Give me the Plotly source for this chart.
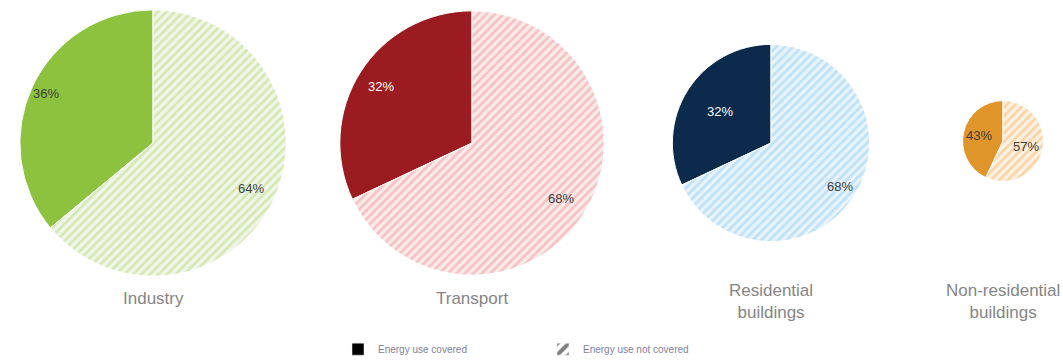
import math
import plotly.graph_objects as go

W, H = 1063, 364

sectors = ["Industry", "Transport", "Residential<br>buildings", "Non-residential<br>buildings"]
covered = [36, 32, 32, 43]
not_covered = [64, 68, 68, 57]
slice_labels = ["Energy use covered", "Energy use not covered"]

solid_colors = ["#8DC23F", "#9B1C20", "#0B2A4C", "#E0952A"]
hatch_colors = ["#D3E8B4", "#F3C2C2", "#BFE0F6", "#F8D5A8"]
hatch_bg = ["#F1F7E8", "#FBEAEA", "#E8F4FC", "#FDF1E2"]
covered_text = ["#404040", "#FFFFFF", "#FFFFFF", "#404040"]

# pixel geometry: centre x, centre y, radius
geom = [(153, 145, 135), (472, 145, 134), (771, 145, 100), (1003, 143, 41)]
title_y = [303, 303, 306, 306]
# radial position of the percentage labels (fraction of radius)
label_r = [(0.88, 0.80), (0.80, 0.79), (0.60, 0.82), (0.60, 0.57)]

fig = go.Figure()
for i, s in enumerate(sectors):
    cx, cy, r = geom[i]
    tot = covered[i] + not_covered[i]
    fig.add_trace(go.Pie(
        labels=slice_labels,
        values=[covered[i], not_covered[i]],
        sort=False,
        direction="clockwise",
        rotation=-360.0 * covered[i] / tot,
        textinfo="none",
        marker=dict(
            colors=[solid_colors[i], hatch_bg[i]],
            line=dict(color="white", width=1),
            pattern=dict(shape=["", "/"], fgcolor=hatch_colors[i], bgcolor=hatch_bg[i],
                         size=6, solidity=0.45, fillmode="replace"),
        ),
        domain=dict(x=[(cx - r) / W, (cx + r) / W], y=[1 - (cy + r) / H, 1 - (cy - r) / H]),
        showlegend=False,
        hoverinfo="label+percent",
    ))
    fig.add_annotation(text=s, x=cx / W, y=1 - title_y[i] / H, xref="paper", yref="paper",
                       showarrow=False, xanchor="center", yanchor="middle",
                       font=dict(family="Liberation Sans Narrow, Liberation Sans", size=17, color="#858585"))
    # percentage labels on each slice's bisector (covered slice runs anticlockwise from 12 o'clock)
    vals = [covered[i], not_covered[i]]
    cols = [covered_text[i], "#404040"]
    start = 0.0
    for k, v in enumerate(vals):
        mid = (start + v / 2) / tot * 2 * math.pi
        start += v
        rr = label_r[i][k] * r
        px = cx - rr * math.sin(mid)
        py = cy - rr * math.cos(mid)
        fig.add_annotation(text=f"{v}%", x=px / W, y=1 - py / H, xref="paper", yref="paper",
                           showarrow=False, xanchor="center", yanchor="middle",
                           font=dict(family="Liberation Sans", size=13, color=cols[k]))

# legend helper traces
fig.add_trace(go.Bar(x=[None], y=[None], name=slice_labels[0], marker=dict(color="black"), showlegend=True))
fig.add_trace(go.Bar(x=[None], y=[None], name=slice_labels[1],
                     marker=dict(color="white", pattern=dict(shape="/", fgcolor="black", bgcolor="white", solidity=0.5)),
                     showlegend=True))

fig.update_layout(
    width=W, height=H,
    margin=dict(l=0, r=0, t=0, b=0),
    paper_bgcolor="white", plot_bgcolor="white",
    xaxis=dict(visible=False), yaxis=dict(visible=False),
    legend=dict(orientation="h", x=338 / W, y=1 - 354 / H, xanchor="left", yanchor="middle",
                font=dict(family="Liberation Sans", size=10, color="#7F7F9A"),
                entrywidth=160, entrywidthmode="pixels", itemwidth=30, bgcolor="rgba(0,0,0,0)"),
)

fig.write_html("out.html", config={"displayModeBar": False},
               post_script="document.body.style.margin='0';document.body.style.padding='0';")
